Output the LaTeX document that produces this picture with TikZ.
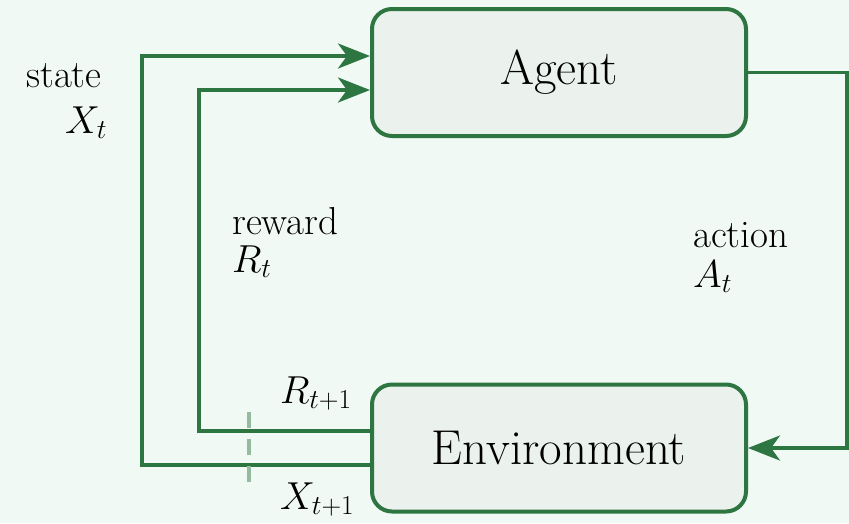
\RequirePackage{fix-cm}
\documentclass[tikz,border=0pt]{standalone}
\usetikzlibrary{arrows.meta}
\definecolor{bgc}{RGB}{240,249,243}
\definecolor{linec}{RGB}{45,117,65}
\definecolor{boxfill}{RGB}{235,242,237}
\definecolor{dashc}{RGB}{148,186,160}
\tikzset{
  box/.style={draw=linec, line width=4pt, fill=boxfill, rounded corners=20pt,
    minimum width=374pt, minimum height=127pt, inner sep=0pt,
    font=\fontsize{49}{54}\selectfont},
  flow/.style={draw=linec, line width=3.6pt,
    -{Stealth[length=32pt,width=25pt,inset=9pt]}},
  lbl/.style={anchor=base west, inner sep=0pt, font=\fontsize{39}{44}\selectfont},
  divider/.style={draw=dashc, line width=3.5pt, dash pattern=on 16pt off 11pt}
}
\begin{document}
\begin{tikzpicture}[x=1pt,y=-1pt]
\fill[bgc] (0,0) rectangle (849,523);
\useasboundingbox (0,0) rectangle (849,523);
\node[box] (agent) at (559,72.5) {Agent};
\node[box] (env) at (559,448) {Environment};
% action
\coordinate (ar) at (847,72.5);
\coordinate (br) at (847,448);
\draw[flow] (agent.east) -- (ar) -- (br) -- (env.east);
% state
\coordinate (sl) at (142,465);
\draw[flow] ([yshift=-17pt]env.west) -- (sl) |- ([yshift=16.5pt]agent.west);
% reward
\coordinate (rl) at (199,431);
\draw[flow] ([yshift=17pt]env.west) -- (rl) |- ([yshift=-17.5pt]agent.west);
% divider
\coordinate (d1) at (249,412);
\coordinate (d2) at (249,487);
\draw[divider] (d1) -- (d2);
% labels
\node[lbl] (ls) at (26,87) {state};
\node[lbl] (lx) at (65,133) {$X_t$};
\node[lbl] (lr) at (232,234) {reward};
\node[lbl] (lrt) at (232,272) {$R_t$};
\node[lbl] (la) at (693,247) {action};
\node[lbl] (lat) at (693,287) {$A_t$};
\node[lbl] (lr1) at (280,403) {$R_{t+1}$};
\node[lbl] (lx1) at (280,509) {$X_{t+1}$};
\end{tikzpicture}
\end{document}
